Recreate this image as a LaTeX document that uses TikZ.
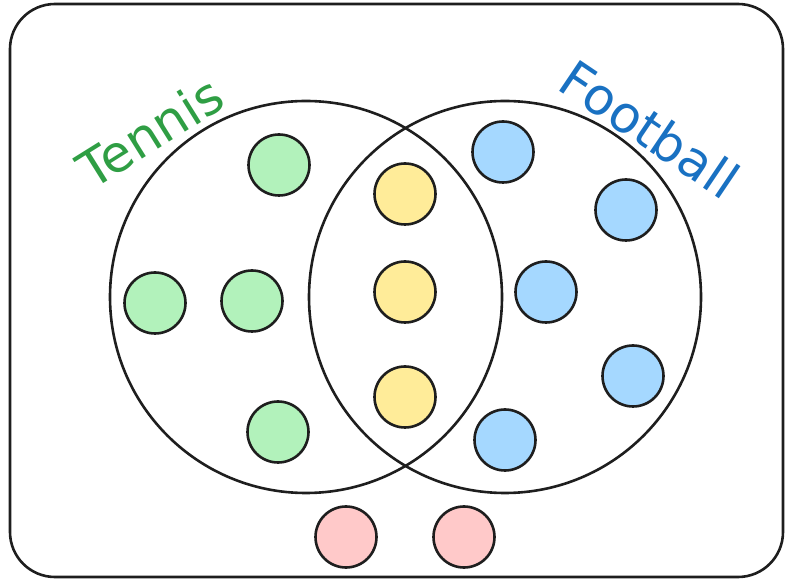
\documentclass[tikz,border=0pt]{standalone}
\usepackage{fontspec}
\newfontfamily\handfont{DejaVu Sans}
\definecolor{ink}{HTML}{1E1E1E}
\definecolor{tennisfill}{HTML}{B2F2BB}
\definecolor{bothfill}{HTML}{FFEC99}
\definecolor{footfill}{HTML}{A5D8FF}
\definecolor{nonefill}{HTML}{FFC9C9}
\definecolor{tennisink}{HTML}{2F9E44}
\definecolor{footink}{HTML}{1971C2}
\begin{document}
\begin{tikzpicture}[
    x=1pt, y=1pt,
    line width=2.6pt,
    every node/.style={font=\handfont},
    setring/.style={draw=ink, circle, minimum size=392pt, inner sep=0pt},
    member/.style={draw=ink, circle, minimum size=61pt, inner sep=0pt},
    tennis/.style={member, fill=tennisfill},
    both/.style={member, fill=bothfill},
    football/.style={member, fill=footfill},
    neither/.style={member, fill=nonefill},
    setlabel/.style={inner sep=0pt, font=\handfont\fontsize{51}{55}\selectfont}
  ]
  \useasboundingbox (0,0) rectangle (787,581);

  %--------------------------------------
  % 1) outer frame (all pupils)
  %--------------------------------------
  \draw[ink, rounded corners=45pt] (10,4) rectangle (783,577);

  %--------------------------------------
  % 2) the two sets
  %--------------------------------------
  \node[setring] (Tset) at (306,284) {};
  \node[setring] (Fset) at (505,284) {};

  % set names
  \node[setlabel, text=tennisink, rotate=32]  (Tname) at (150,449) {Tennis};
  \node[setlabel, text=footink,   rotate=-34] (Fname) at (650,452) {Football};

  %--------------------------------------
  % 3) members
  %--------------------------------------
  % tennis only
  \node[tennis] (T1) at (279,416) {};
  \node[tennis] (T2) at (155,278) {};
  \node[tennis] (T3) at (252,280) {};
  \node[tennis] (T4) at (278,149) {};
  % both
  \node[both] (B1) at (405,387) {};
  \node[both] (B2) at (405,289) {};
  \node[both] (B3) at (405,184) {};
  % football only
  \node[football] (F1) at (503,429) {};
  \node[football] (F2) at (626,371) {};
  \node[football] (F3) at (546,289) {};
  \node[football] (F4) at (633,205) {};
  \node[football] (F5) at (505,141) {};
  % neither
  \node[neither] (N1) at (346,44) {};
  \node[neither] (N2) at (464,44) {};

\end{tikzpicture}
\end{document}
